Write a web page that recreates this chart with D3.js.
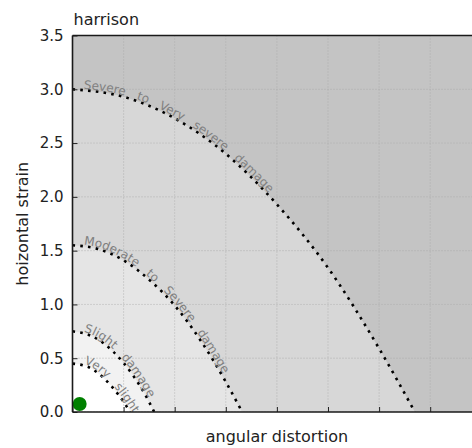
<!DOCTYPE html>
<html>
<head>
<meta charset="utf-8">
<script src="https://cdn.jsdelivr.net/npm/d3@7"></script>
<style>
  html, body { margin: 0; padding: 0; background: #ffffff; }
  svg { display: block; font-family: "DejaVu Sans", sans-serif; }
</style>
</head>
<body>
<svg id="chart" width="472" height="448"></svg>
<script>
// Damage category boundaries (angular distortion vs horizontal strain)
const xTicks = [0, 1, 2, 3, 4, 5, 6, 7, 8];
const yTicks = [0, 0.5, 1.0, 1.5, 2.0, 2.5, 3.0, 3.5];
const yTickLabels = ["0.0", "0.5", "1.0", "1.5", "2.0", "2.5", "3.0", "3.5"];

const categories = ["Very slight", "Slight damage", "Moderate to Severe damage", "Severe to Very severe damage"];

const verySlightX = [0, 0.3, 0.6, 0.9, 1.13];
const verySlightY = [0.45, 0.42, 0.32, 0.16, 0];

const slightX = [0, 0.4, 0.8, 1.2, 1.4, 1.6];
const slightY = [0.75, 0.70, 0.56, 0.33, 0.18, 0];

const moderateX = [0, 0.5, 1.0, 1.5, 2.0, 2.5, 3.0, 3.32];
const moderateY = [1.55, 1.515, 1.41, 1.23, 0.99, 0.67, 0.28, 0];

const severeX = [0, 1, 2, 3, 4, 5, 6, 6.7];
const severeY = [3.0, 2.93, 2.73, 2.40, 1.93, 1.34, 0.59, 0];

// Measured case
const pointX = [0.14];
const pointY = [0.075];

const boundaries = [
  { name: categories[3], xs: severeX, ys: severeY, fill: "#d7d7d7", ws: 8 },
  { name: categories[2], xs: moderateX, ys: moderateY, fill: "#e5e5e5", ws: 8 },
  { name: categories[1], xs: slightX, ys: slightY, fill: "#f2f2f2", ws: 7 },
  { name: categories[0], xs: verySlightX, ys: verySlightY, fill: "#ffffff", ws: 7 }
];

const svg = d3.select("#chart");
const mLeft = 72.5, mTop = 35.5, mBottom = 412, mRight = 481.3;

const x = d3.scaleLinear().domain([0, 8]).range([mLeft, mRight]);
const y = d3.scaleLinear().domain([0, 3.5]).range([mBottom, mTop]);

const defs = svg.append("defs");
defs.append("clipPath").attr("id", "plotclip")
  .append("rect").attr("x", mLeft).attr("y", mTop)
  .attr("width", mRight - mLeft).attr("height", mBottom - mTop);

const plot = svg.append("g").attr("clip-path", "url(#plotclip)");

// outer region background
plot.append("rect")
  .attr("x", mLeft).attr("y", mTop)
  .attr("width", mRight - mLeft).attr("height", mBottom - mTop)
  .attr("fill", "#c4c4c4");

const curve = d3.curveMonotoneX;
const area = d3.area().x(d => x(d[0])).y0(y(0)).y1(d => y(d[1])).curve(curve);
const line = d3.line().x(d => x(d[0])).y(d => y(d[1])).curve(curve);

boundaries.forEach(b => {
  b.pts = b.xs.map((v, i) => [v, b.ys[i]]);
  plot.append("path").attr("d", area(b.pts)).attr("fill", b.fill);
});

// grid
const grid = plot.append("g")
  .attr("stroke", "#a8a8a8").attr("stroke-width", 0.8)
  .attr("stroke-dasharray", "1,2");
xTicks.forEach(t => {
  grid.append("line").attr("x1", x(t)).attr("x2", x(t)).attr("y1", mTop).attr("y2", mBottom);
});
yTicks.forEach(t => {
  grid.append("line").attr("x1", mLeft).attr("x2", mRight).attr("y1", y(t)).attr("y2", y(t));
});

// boundary curves and their labels
boundaries.forEach((b, i) => {
  const d = line(b.pts);
  const curvePath = plot.append("path")
    .attr("d", d)
    .attr("fill", "none")
    .attr("stroke", "#000")
    .attr("stroke-width", 2.6)
    .attr("stroke-dasharray", "2.6,5.2");

  // label path: the boundary, continued along its end tangent so long labels run past the axis
  const node = curvePath.node();
  const L = node.getTotalLength();
  const pEnd = node.getPointAtLength(L);
  const pPrev = node.getPointAtLength(L - 1);
  const dx = pEnd.x - pPrev.x, dy = pEnd.y - pPrev.y;
  const n = Math.hypot(dx, dy) || 1;
  const ext = 40;
  const labelD = d + `L${pEnd.x + dx / n * ext},${pEnd.y + dy / n * ext}`;

  const id = "boundary" + i;
  defs.append("path").attr("id", id).attr("d", labelD);
  plot.append("text")
    .attr("font-size", 12)
    .attr("fill", "#808080")
    .attr("word-spacing", b.ws)
    .attr("dy", -1.5)
    .append("textPath")
    .attr("href", "#" + id)
    .attr("startOffset", 11)
    .text(b.name);
});

// measured point
plot.selectAll("circle.pt").data(pointX).join("circle")
  .attr("class", "pt")
  .attr("cx", (d, i) => x(d))
  .attr("cy", (d, i) => y(pointY[i]))
  .attr("r", 7)
  .attr("fill", "#008000");

// axes (inward ticks)
const yAxis = d3.axisLeft(y).tickValues(yTicks).tickFormat((d, i) => yTickLabels[i])
  .tickSizeInner(-5).tickSizeOuter(0).tickPadding(9);
const gy = svg.append("g").attr("transform", `translate(${mLeft},0)`).call(yAxis);
gy.select(".domain").remove();
gy.selectAll(".tick line").attr("stroke", "#222").attr("stroke-width", 1);
gy.selectAll(".tick text").attr("font-size", 15).attr("fill", "#222")
  .attr("font-family", "DejaVu Sans");

const xAxis = d3.axisBottom(x).tickValues(xTicks).tickFormat("")
  .tickSizeInner(-5).tickSizeOuter(0);
const gx = svg.append("g").attr("transform", `translate(0,${mBottom})`).call(xAxis);
gx.select(".domain").remove();
gx.selectAll(".tick line").attr("stroke", "#222").attr("stroke-width", 1);

// spines
const spines = svg.append("g").attr("stroke", "#1a1a1a").attr("stroke-width", 1.6);
spines.append("line").attr("x1", mLeft).attr("x2", mLeft).attr("y1", mTop).attr("y2", mBottom);
spines.append("line").attr("x1", mLeft).attr("x2", mRight).attr("y1", mBottom).attr("y2", mBottom);
spines.append("line").attr("x1", mLeft).attr("x2", mRight).attr("y1", mTop).attr("y2", mTop);
spines.append("line").attr("x1", mRight).attr("x2", mRight).attr("y1", mTop).attr("y2", mBottom);

// titles
svg.append("text").attr("x", 73.5).attr("y", 24.5)
  .attr("font-size", 16).attr("fill", "#222").text("harrison");
svg.append("text").attr("x", (mLeft + mRight) / 2).attr("y", 441.5)
  .attr("text-anchor", "middle").attr("font-size", 16).attr("fill", "#222")
  .text("angular distortion");
svg.append("text")
  .attr("transform", `translate(28,${(mTop + mBottom) / 2}) rotate(-90)`)
  .attr("text-anchor", "middle").attr("font-size", 16).attr("fill", "#222")
  .text("hoizontal strain");
</script>
</body>
</html>
